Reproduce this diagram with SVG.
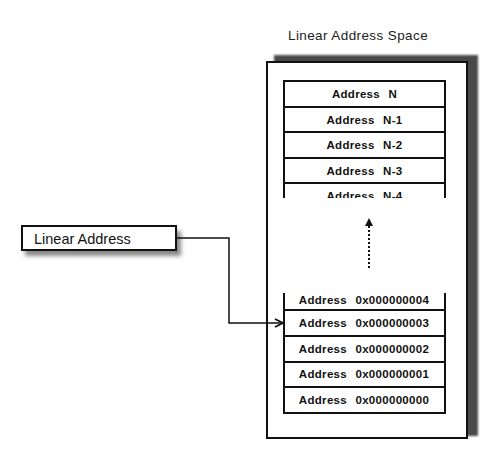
<svg xmlns="http://www.w3.org/2000/svg" width="501" height="450" viewBox="0 0 501 450">
<style>
.cell{fill:#fff;stroke:#111;stroke-width:2}
.lbl{font-family:"Liberation Sans",Arial,sans-serif;font-weight:bold;font-size:11.5px;letter-spacing:0.3px;word-spacing:5px;fill:#111;text-anchor:middle}
.title{font-family:"Liberation Sans",Arial,sans-serif;font-size:13.5px;letter-spacing:0.4px;fill:#222}
.conn{fill:none;stroke:#111;stroke-width:1.5}
</style>
<defs>
<filter id="blur1" x="-10%" y="-10%" width="120%" height="120%"><feGaussianBlur stdDeviation="1.2"/></filter>
<filter id="blur2" x="-20%" y="-50%" width="140%" height="200%"><feGaussianBlur stdDeviation="2"/></filter>
<marker id="open" viewBox="0 0 10 10" refX="9" refY="5" markerWidth="10" markerHeight="10" markerUnits="userSpaceOnUse" orient="auto"><path d="M1,1 L9,5 L1,9" fill="none" stroke="#111" stroke-width="1.8"/></marker>
<marker id="tri" viewBox="0 0 10 10" refX="5" refY="1" markerWidth="7" markerHeight="8" markerUnits="userSpaceOnUse" orient="0"><path d="M0,10 L5,0 L10,10 Z" fill="#111"/></marker>
<clipPath id="n4clip"><rect x="284" y="184" width="161" height="14"/></clipPath>
</defs>

<text class="title" x="288" y="40">Linear Address Space</text>

<g id="space">
<rect x="274" y="55" width="204" height="381" fill="#4a4a4a" filter="url(#blur1)"/>
<rect x="267" y="62" width="200" height="376" fill="#fff" stroke="#111" stroke-width="2"/>
</g>

<g id="upper-stack">
<path d="M284,198 V81 H445 V198" fill="#fff" stroke="#111" stroke-width="2"/>
<line x1="284" y1="107" x2="445" y2="107" stroke="#111" stroke-width="2"/>
<line x1="284" y1="132" x2="445" y2="132" stroke="#111" stroke-width="2"/>
<line x1="284" y1="158" x2="445" y2="158" stroke="#111" stroke-width="2"/>
<line x1="284" y1="183" x2="445" y2="183" stroke="#111" stroke-width="2"/>
<text class="lbl" x="364.5" y="98">Address N</text>
<text class="lbl" x="364.5" y="124">Address N-1</text>
<text class="lbl" x="364.5" y="149">Address N-2</text>
<text class="lbl" x="364.5" y="175">Address N-3</text>
<text class="lbl" x="364.5" y="200" clip-path="url(#n4clip)">Address N-4</text>
</g>

<g id="lower-stack">
<path d="M284,293 V413 H445 V293" fill="#fff" stroke="#111" stroke-width="2"/>
<line x1="284" y1="310" x2="445" y2="310" stroke="#111" stroke-width="2"/>
<line x1="284" y1="336" x2="445" y2="336" stroke="#111" stroke-width="2"/>
<line x1="284" y1="362" x2="445" y2="362" stroke="#111" stroke-width="2"/>
<line x1="284" y1="387" x2="445" y2="387" stroke="#111" stroke-width="2"/>
<text class="lbl" x="364" y="304">Address 0x000000004</text>
<text class="lbl" x="364" y="327">Address 0x000000003</text>
<text class="lbl" x="364" y="353">Address 0x000000002</text>
<text class="lbl" x="364" y="378">Address 0x000000001</text>
<text class="lbl" x="364" y="404">Address 0x000000000</text>
</g>

<g id="linear-address">
<rect x="25" y="231" width="156" height="25" fill="#888" filter="url(#blur2)"/>
<rect x="22" y="226" width="154" height="24" fill="#fff" stroke="#111" stroke-width="2"/>
<text x="34" y="244" font-family="'Liberation Sans',Arial,sans-serif" font-size="14.5px" fill="#111">Linear Address</text>
</g>

<g id="connectors">
<path class="conn" d="M176,238 H229 V323 H283" marker-end="url(#open)"/>
<line x1="369" y1="268" x2="369" y2="226" stroke="#111" stroke-width="2" stroke-dasharray="2,2"/>
<path d="M365,226 L369,218 L373,226 Z" fill="#111"/>
</g>
</svg>
